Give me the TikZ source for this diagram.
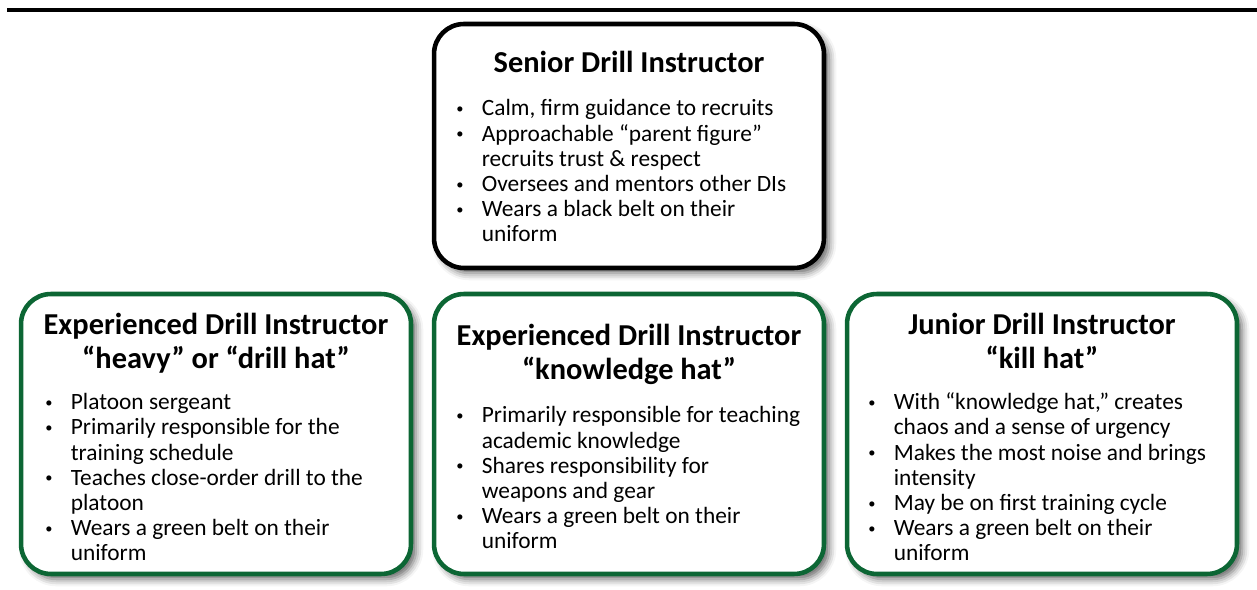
\documentclass[tikz,border=0pt]{standalone}
\usepackage{fontspec}
\setmainfont{Carlito}
\usetikzlibrary{shadows.blur}

\definecolor{digreen}{RGB}{12,102,52}
\newcommand{\dibul}{\makebox[0.51cm][l]{\raisebox{0.22ex}{\scalebox{0.62}{\textbullet}}}}
\newcommand{\dicont}{\hspace*{0.51cm}}

\begin{document}
\begin{tikzpicture}[
            x = 0.02cm, y = -0.02cm, % one unit = one pixel of the page
            dibox/.style = {draw=black, line width=2.6pt, rounded corners=17pt,
                fill=white, minimum width=7.8cm, minimum height=5.6cm,
                blur shadow={shadow xshift=3pt, shadow yshift=-3pt,
                    shadow blur radius=4pt, shadow opacity=60}},
            greenbox/.style = {dibox, draw=digreen},
            dititle/.style = {font=\bfseries\fontsize{17.3}{19.9}\selectfont,
                align=center, anchor=base, inner sep=0pt}, % base = last line
            dilist/.style = {font=\fontsize{13.3}{14.35}\selectfont,
                align=left, anchor=base west, inner sep=0pt}
        ]
\useasboundingbox (0,0) rectangle (1257,590);

% rule over the page
\coordinate (ruleL) at (7,10);
\coordinate (ruleR) at (1257,10);
\draw[line width=1.9pt] (ruleL) -- (ruleR);

% senior
\node[dibox, minimum height=4.88cm] (senior) at (629,146) {};
\node[dititle] (seniorT) at (629,73) {Senior Drill Instructor};
\node[dilist] (seniorL) at (456,242) {\dibul Calm, firm guidance to recruits\\
 \dibul Approachable ``parent figure''\\
 \dicont recruits trust \& respect\\
 \dibul Oversees and mentors other DIs\\
 \dibul Wears a black belt on their\\
 \dicont uniform};

% heavy hat
\node[greenbox] (heavy) at (216,434) {};
\node[dititle] (heavyT) at (216,369) {Experienced Drill Instructor\\
 ``heavy'' or ``drill hat''};
\node[dilist] (heavyL) at (45,561) {\dibul Platoon sergeant\\
 \dibul Primarily responsible for the\\
 \dicont training schedule\\
 \dibul Teaches close-order drill to the\\
 \dicont platoon\\
 \dibul Wears a green belt on their\\
 \dicont uniform};

% knowledge hat
\node[greenbox] (knowledge) at (629,434) {};
\node[dititle] (knowledgeT) at (629,380) {Experienced Drill Instructor\\
 ``knowledge hat''};
\node[dilist] (knowledgeL) at (456,549) {\dibul Primarily responsible for teaching\\
 \dicont academic knowledge\\
 \dibul Shares responsibility for\\
 \dicont weapons and gear\\
 \dibul Wears a green belt on their\\
 \dicont uniform};

% kill hat
\node[greenbox] (kill) at (1042,434) {};
\node[dititle] (killT) at (1042,369) {Junior Drill Instructor\\
 ``kill hat''};
\node[dilist] (killL) at (868,561) {\dibul With ``knowledge hat,'' creates\\
 \dicont chaos and a sense of urgency\\
 \dibul Makes the most noise and brings\\
 \dicont intensity\\
 \dibul May be on first training cycle\\
 \dibul Wears a green belt on their\\
 \dicont uniform};

\end{tikzpicture}
\end{document}
